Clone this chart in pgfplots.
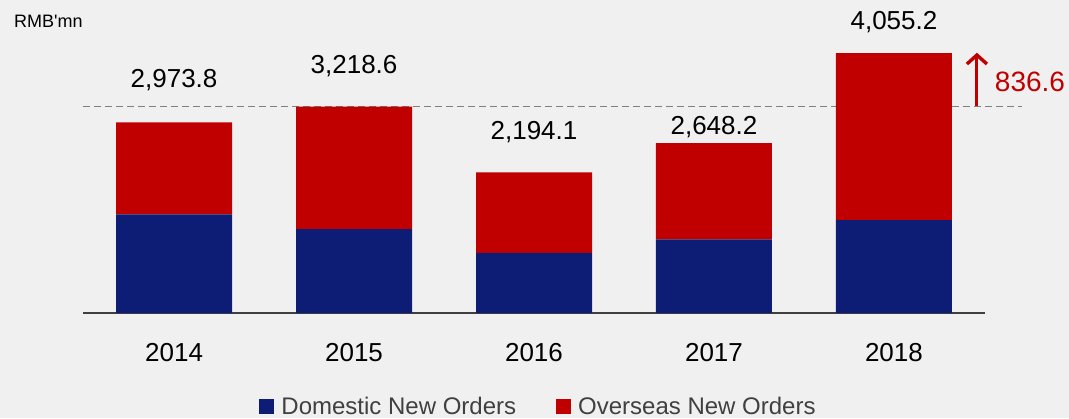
\documentclass[border=0pt]{standalone}
\usepackage{fontspec}
\setmainfont{Liberation Sans}
\usepackage{pgfplots}
\pgfplotsset{compat=1.18}
\usetikzlibrary{arrows.meta}
\definecolor{bg}{HTML}{F0F0F0}
\definecolor{dom}{HTML}{0D1C74}
\definecolor{ovs}{HTML}{C00000}
\definecolor{txtgray}{HTML}{404040}
\definecolor{dashgray}{HTML}{808080}

\begin{document}
\begin{tikzpicture}[x=1pt,y=1pt,
  vlabel/.style={anchor=base, font=\fontsize{26}{28}\selectfont, inner sep=0pt}]
\fill[bg] (0,0) rectangle (1069,418);
\node[anchor=base west, inner sep=0pt, font=\fontsize{18}{20}\selectfont] at (14,390) {RMB\textquotesingle mn};

\begin{axis}[
  at={(83pt,105pt)}, anchor=south west,
  scale only axis,
  width=902pt, height=307.7pt,
  xmin=-0.506, xmax=4.506,
  ymin=0, ymax=4800,
  ybar stacked,
  bar width=116pt,
  axis x line*=bottom,
  axis y line=none,
  x axis line style={draw=txtgray, line width=1.6pt, -},
  xtick=\empty,
  clip=false,
  legend style={at={(0.505,-0.303)}, anchor=center, draw=none, fill=none,
    legend columns=2, font=\fontsize{24}{26}\selectfont, text=txtgray,
    nodes={inner ysep=1pt},
    /tikz/every odd column/.append style={column sep=5pt},
    /tikz/every even column/.append style={column sep=38pt}},
  legend image code/.code={\fill[#1] (0pt,-7.5pt) rectangle (15pt,7.5pt);},
]
\addplot[fill=dom, draw=none] coordinates {(0,1540) (1,1310) (2,936) (3,1150) (4,1450)};
\addlegendentry{Domestic New Orders}
\addplot[fill=ovs, draw=none] coordinates {(0,1433.8) (1,1908.6) (2,1258.1) (3,1498.2) (4,2605.2)};
\addlegendentry{Overseas New Orders}

\draw[dashgray, line width=1.2pt, dash pattern=on 7pt off 4pt] (axis cs:-0.506,3218.6) -- (axis cs:4.711,3218.6);
\draw[ovs, line width=3pt, -{Straight Barb[length=9pt, width=20pt, line width=3.4pt]}] (axis cs:4.461,3218.6) -- (axis cs:4.461,4060);
\node[ovs, anchor=center, font=\fontsize{28}{30}\selectfont] at (axis cs:4.756,3598) {836.6};

% value labels
\node[vlabel] at (axis cs:0,3510) {2,973.8};
\node[vlabel] at (axis cs:1,3739) {3,218.6};
\node[vlabel] at (axis cs:2,2699) {2,194.1};
\node[vlabel] at (axis cs:3,2777) {2,648.2};
\node[vlabel] at (axis cs:4,4415) {4,055.2};
% year labels
\node[vlabel, yshift=-48.7pt] at (axis cs:0,0) {2014};
\node[vlabel, yshift=-48.7pt] at (axis cs:1,0) {2015};
\node[vlabel, yshift=-48.7pt] at (axis cs:2,0) {2016};
\node[vlabel, yshift=-48.7pt] at (axis cs:3,0) {2017};
\node[vlabel, yshift=-48.7pt] at (axis cs:4,0) {2018};
\end{axis}
\pgfresetboundingbox
\path (0,0) rectangle (1069,418);
\end{tikzpicture}
\end{document}
